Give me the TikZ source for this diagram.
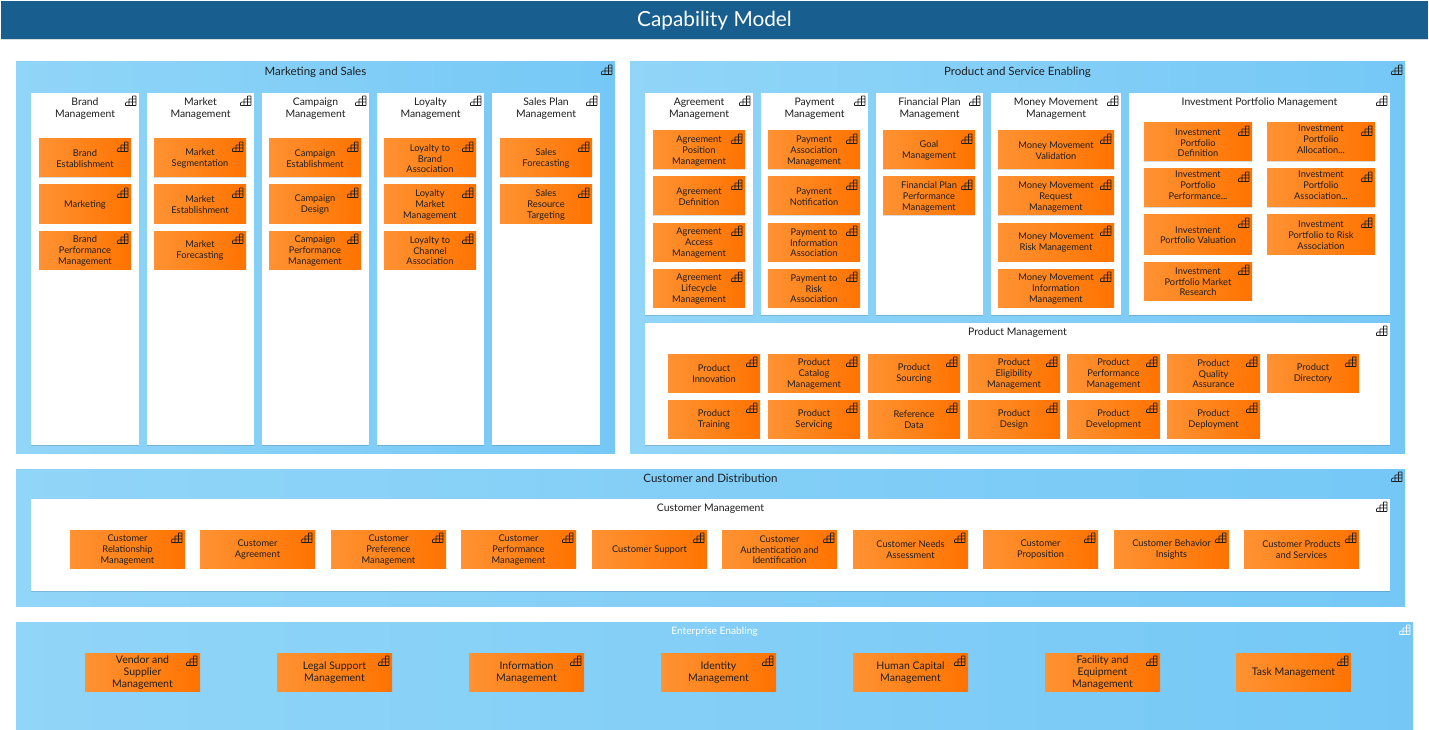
\documentclass[tikz,border=0pt]{standalone}
\usepackage{fontspec}
\setmainfont{Lato}
\usetikzlibrary{shadows}
\definecolor{headblue}{HTML}{185E8E}
\definecolor{blueL}{HTML}{91D5F8}
\definecolor{blueR}{HTML}{75C8F6}
\definecolor{orangeL}{HTML}{FF9233}
\definecolor{orangeR}{HTML}{FF7300}
\definecolor{ink}{HTML}{1E1E1E}
\tikzset{
  softshadow/.style={general shadow={shadow xshift=0.4pt,shadow yshift=-1pt,fill=black,opacity=.14}},
  basebox/.style={inner sep=0pt,outer sep=0pt,draw=none,anchor=center},
  sectionbox/.style={basebox,softshadow,left color=blueL,right color=blueR},
  flatsection/.style={basebox,left color=blueL,right color=blueR},
  whitebox/.style={basebox,softshadow,fill=white},
  capbox/.style={basebox,softshadow,left color=orangeL,right color=orangeR,text=ink,align=center,font=\fontsize{9.3}{10.8}\selectfont},
  bigcap/.style={capbox,font=\fontsize{10.5}{12}\selectfont},
  sectitle/.style={inner sep=0pt,text=ink,align=center,font=\fontsize{11.5}{13}\selectfont},
  paneltitle/.style={inner sep=0pt,anchor=north,text=ink,align=center,font=\fontsize{10.4}{12}\selectfont},
  capicon/.pic={
    \draw[line width=.7pt,draw=iconcol,line join=round,rounded corners=.4pt]
      (10.5,0)--(7,0)--(7,3)--(3.5,3)--(3.5,6)--(1,6)--(0,7)--(0,9.5)--(10.5,9.5)--cycle
      (7,3)--(10.5,3) (3.5,6)--(10.5,6) (3.5,6)--(3.5,9.5) (7,3)--(7,9.5);
  }
}
\colorlet{iconcol}{ink}
% box: style, name, x1, y1, x2, y2, text
\newcommand\boxat[7]{%
  \node[#1,minimum width={(#5-#3)*1pt},minimum height={(#6-#4)*1pt}] (#2) at ({(#3+#5)/2},{(#4+#6)/2}) {#7};
  \pic at ({#5-13.5},{#4+3}) {capicon};
}
\newcommand\capb[6]{\boxat{capbox}{#1}{#2}{#3}{#4}{#5}{\mbox{}\\[-2.6pt]#6}}
\newcommand\bigb[6]{\boxat{bigcap}{#1}{#2}{#3}{#4}{#5}{\mbox{}\\[-2.3pt]#6}}
\newcommand\panel[6]{%
  \boxat{whitebox}{#1}{#2}{#3}{#4}{#5}{}
  \node[paneltitle] (#1-title) at ({(#2+#4)/2},{#3+4.5}) {#6};
}
\begin{document}
\begin{tikzpicture}[x=1pt,y=-1pt]
\useasboundingbox (0,0) rectangle (1429,730);
\fill[white] (0,0) rectangle (1429,730);
% header
\node[basebox,softshadow,fill=headblue,minimum width=1427pt,minimum height=38pt,text=white,text height=13.2pt,text depth=0pt,font=\fontsize{20.8}{24}\selectfont] (header) at (714.5,20) {Capability Model};

% Marketing and Sales
\boxat{sectionbox}{mkt}{16}{62}{615}{453}{}
\node[sectitle] (mkt-title) at (315.5,72.5) {Marketing and Sales};
\panel{brand}{31}{93}{139}{445}{Brand\\Management}
\panel{market}{147}{93}{254}{445}{Market\\Management}
\panel{campaign}{262}{93}{369}{445}{Campaign\\Management}
\panel{loyalty}{377}{93}{484}{445}{Loyalty\\Management}
\panel{salesplan}{492}{93}{600}{445}{Sales Plan\\Management}
\capb{b1}{39}{139}{131}{177}{Brand\\Establishment}
\capb{b2}{39}{185}{131}{223}{Marketing}
\capb{b3}{39}{231}{131}{269}{Brand\\Performance\\Management}
\capb{m1}{154}{139}{246}{177}{Market\\Segmentation}
\capb{m2}{154}{185}{246}{223}{Market\\Establishment}
\capb{m3}{154}{231}{246}{269}{Market\\Forecasting}
\capb{c1}{269}{139}{361}{177}{Campaign\\Establishment}
\capb{c2}{269}{185}{361}{223}{Campaign\\Design}
\capb{c3}{269}{231}{361}{269}{Campaign\\Performance\\Management}
\capb{l1}{384}{139}{476}{177}{Loyalty to\\Brand\\Association}
\capb{l2}{384}{185}{476}{223}{Loyalty\\Market\\Management}
\capb{l3}{384}{231}{476}{269}{Loyalty to\\Channel\\Association}
\capb{s1}{500}{139}{592}{177}{Sales\\Forecasting}
\capb{s2}{500}{185}{592}{223}{Sales\\Resource\\Targeting}

% Product and Service Enabling
\boxat{sectionbox}{prod}{630}{62}{1405}{453}{}
\node[sectitle] (prod-title) at (1017.5,72.5) {Product and Service Enabling};
\panel{agree}{645}{93}{753}{315}{Agreement\\Management}
\panel{pay}{761}{93}{868}{315}{Payment\\Management}
\panel{fin}{876}{93}{983}{315}{Financial Plan\\Management}
\panel{money}{991}{93}{1121}{315}{Money Movement\\Management}
\panel{invest}{1129}{93}{1390}{315}{Investment Portfolio Management}
\capb{a1}{653}{131}{745}{169}{Agreement\\Position\\Management}
\capb{a2}{653}{177}{745}{215}{Agreement\\Definition}
\capb{a3}{653}{223}{745}{261}{Agreement\\Access\\Management}
\capb{a4}{653}{269}{745}{307}{Agreement\\Lifecycle\\Management}
\capb{p1}{768}{131}{860}{169}{Payment\\Association\\Management}
\capb{p2}{768}{177}{860}{215}{Payment\\Notification}
\capb{p3}{768}{223}{860}{261}{Payment to\\Information\\Association}
\capb{p4}{768}{269}{860}{307}{Payment to\\Risk\\Association}
\capb{f1}{883}{131}{975}{169}{Goal\\Management}
\capb{f2}{883}{177}{975}{215}{Financial Plan\\Performance\\Management}
\capb{mm1}{998}{131}{1114}{169}{Money Movement\\Validation}
\capb{mm2}{998}{177}{1114}{215}{Money Movement\\Request\\Management}
\capb{mm3}{998}{223}{1114}{261}{Money Movement\\Risk Management}
\capb{mm4}{998}{269}{1114}{307}{Money Movement\\Information\\Management}
\capb{i1}{1144}{123}{1252}{161}{Investment\\Portfolio\\Definition}
\capb{i2}{1267}{123}{1375}{161}{Investment\\Portfolio\\Allocation...\\[-3.4pt]\mbox{}}
\capb{i3}{1144}{169}{1252}{207}{Investment\\Portfolio\\Performance...\\[-3.4pt]\mbox{}}
\capb{i4}{1267}{169}{1375}{207}{Investment\\Portfolio\\Association...\\[-3.4pt]\mbox{}}
\capb{i5}{1144}{215}{1252}{254}{Investment\\Portfolio Valuation}
\capb{i6}{1267}{215}{1375}{254}{Investment\\Portfolio to Risk\\Association}
\capb{i7}{1144}{262}{1252}{300}{Investment\\Portfolio Market\\Research}
\panel{prodm}{645}{323}{1390}{445}{Product Management}
\capb{pm1}{668}{354}{760}{392}{Product\\Innovation}
\capb{pm2}{768}{354}{860}{392}{Product\\Catalog\\Management}
\capb{pm3}{868}{354}{960}{392}{Product\\Sourcing}
\capb{pm4}{968}{354}{1060}{392}{Product\\Eligibility\\Management}
\capb{pm5}{1067}{354}{1160}{392}{Product\\Performance\\Management}
\capb{pm6}{1167}{354}{1260}{392}{Product\\Quality\\Assurance}
\capb{pm7}{1267}{354}{1359}{392}{Product\\Directory}
\capb{pm8}{668}{400}{760}{438}{Product\\Training}
\capb{pm9}{768}{400}{860}{438}{Product\\Servicing}
\capb{pm10}{868}{400}{960}{438}{Reference\\Data}
\capb{pm11}{968}{400}{1060}{438}{Product\\Design}
\capb{pm12}{1067}{400}{1160}{438}{Product\\Development}
\capb{pm13}{1167}{400}{1260}{438}{Product\\Deployment}

% Customer and Distribution
\boxat{sectionbox}{cust}{16}{469}{1405}{606}{}
\node[sectitle] (cust-title) at (710.5,478.5) {Customer and Distribution};
\panel{custm}{31}{499}{1390}{591}{Customer Management}
\capb{cu1}{70}{530}{185}{568}{Customer\\Relationship\\Management}
\capb{cu2}{200}{530}{315}{568}{Customer\\Agreement}
\capb{cu3}{331}{530}{446}{568}{Customer\\Preference\\Management}
\capb{cu4}{461}{530}{576}{568}{Customer\\Performance\\Management}
\capb{cu5}{592}{530}{707}{568}{Customer Support}
\capb{cu6}{722}{530}{837}{568}{Customer\\Authentication and\\Identification}
\capb{cu7}{853}{530}{968}{568}{Customer Needs\\Assessment}
\capb{cu8}{983}{530}{1098}{568}{Customer\\Proposition}
\capb{cu9}{1114}{530}{1229}{568}{Customer Behavior\\Insights}
\capb{cu10}{1244}{530}{1359}{568}{Customer Products\\and Services}

% Enterprise Enabling
\begin{scope}
\colorlet{iconcol}{white}
\boxat{flatsection}{ent}{16}{622}{1413}{730}{}
\end{scope}
\node[sectitle,text=white,font=\fontsize{10.2}{11}\selectfont] (ent-title) at (714.5,632) {Enterprise Enabling};
\bigb{e1}{85}{653}{200}{691}{Vendor and\\Supplier\\Management}
\bigb{e2}{277}{653}{392}{691}{Legal Support\\Management}
\bigb{e3}{469}{653}{584}{691}{Information\\Management}
\bigb{e4}{661}{653}{776}{691}{Identity\\Management}
\bigb{e5}{853}{653}{968}{691}{Human Capital\\Management}
\bigb{e6}{1045}{653}{1160}{691}{Facility and\\Equipment\\Management}
\bigb{e7}{1236}{653}{1351}{691}{Task Management}
\end{tikzpicture}
\end{document}
